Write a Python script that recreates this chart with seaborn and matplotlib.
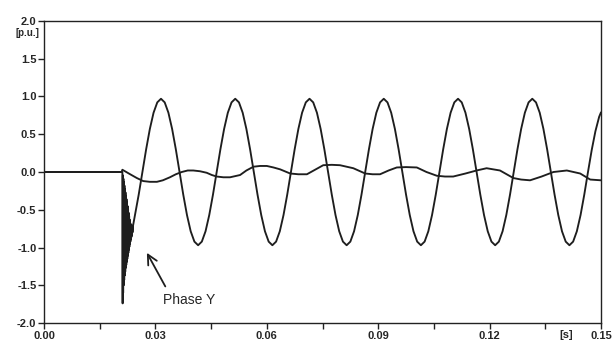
import numpy as np
import pandas as pd
import matplotlib
matplotlib.use("Agg")
import matplotlib.pyplot as plt
import seaborn as sns

# ---------------- data ----------------
# tick labels
x_ticks = [0.00, 0.03, 0.06, 0.09, 0.12, 0.15]
x_tick_labels = ["0.00", "0.03", "0.06", "0.09", "0.12", "0.15"]
y_ticks = [2.0, 1.5, 1.0, 0.5, 0.0, -0.5, -1.0, -1.5, -2.0]
y_tick_labels = ["2.0", "1.5", "1.0", "0.5", "0.0", "-0.5", "-1.0", "-1.5", "-2.0"]

# large curve: pre-fault part
pre_t = [0.0, 0.0211]
pre_v = [0.0, 0.0]

# large curve: dense transient right after the fault (t from 0.0211, step 0.00007 s)
trans_t0 = 0.0211
trans_dt = 0.00007
trans_v = [0.00, -1.74, -0.045, -1.60, -0.09, -1.50, -0.135, -1.43,
           -0.18, -1.37, -0.225, -1.32, -0.27, -1.27, -0.315, -1.23,
           -0.36, -1.19, -0.405, -1.15, -0.45, -1.11, -0.495, -1.07,
           -0.54, -1.03, -0.585, -0.99, -0.63, -0.95, -0.675, -0.92,
           -0.69, -0.89, -0.70, -0.86, -0.71, -0.83, -0.72, -0.80,
           -0.73]

# large curve: steady sinusoid (t from 0.0245, step 0.001 s)
main_t0 = 0.0245
main_dt = 0.001
main_v = [-0.570, -0.300, 0.000, 0.300, 0.570, 0.785, 0.922, 0.970, 0.922, 0.785,
          0.570, 0.300, 0.000, -0.300, -0.570, -0.785, -0.922, -0.970, -0.922,
          -0.785, -0.570, -0.300, 0.000, 0.300, 0.570, 0.785, 0.922, 0.970, 0.922,
          0.785, 0.570, 0.300, 0.000, -0.300, -0.570, -0.785, -0.922, -0.970, -0.922,
          -0.785, -0.570, -0.300, 0.000, 0.300, 0.570, 0.785, 0.922, 0.970, 0.922,
          0.785, 0.570, 0.300, 0.000, -0.300, -0.570, -0.785, -0.922, -0.970, -0.922,
          -0.785, -0.570, -0.300, 0.000, 0.300, 0.570, 0.785, 0.922, 0.970, 0.922,
          0.785, 0.570, 0.300, 0.000, -0.300, -0.570, -0.785, -0.922, -0.970, -0.922,
          -0.785, -0.570, -0.300, 0.000, 0.300, 0.570, 0.785, 0.922, 0.970, 0.922,
          0.785, 0.570, 0.300, 0.000, -0.300, -0.570, -0.785, -0.922, -0.970, -0.922,
          -0.785, -0.570, -0.300, 0.000, 0.300, 0.570, 0.785, 0.922, 0.970, 0.922,
          0.785, 0.570, 0.300, 0.000, -0.300, -0.570, -0.785, -0.922, -0.970, -0.922,
          -0.785, -0.570, -0.300, 0.000, 0.290, 0.540, 0.730]
end_t = [0.150]
end_v = [0.79]

# small curve
small_t = [0.0, 0.0209, 0.0211, 0.0232, 0.0250, 0.0267, 0.0285, 0.0304, 0.0320,
           0.0339, 0.0355, 0.0371, 0.0387, 0.0402, 0.0420, 0.0438, 0.0452, 0.0465,
           0.0483, 0.0501, 0.0528, 0.0545, 0.0564, 0.0582, 0.0600, 0.0618, 0.0636,
           0.0663, 0.0685, 0.0708, 0.0730, 0.0752, 0.0775, 0.0797, 0.0833, 0.0865,
           0.0885, 0.0905, 0.0928, 0.0950, 0.0975, 0.1004, 0.1030, 0.1058, 0.1080,
           0.1102, 0.1135, 0.1165, 0.1192, 0.1228, 0.1246, 0.1264, 0.1285, 0.1309,
           0.1340, 0.1372, 0.1408, 0.1444, 0.1471, 0.1500]
small_v = [0.0, 0.0, 0.03, -0.03, -0.08, -0.12, -0.13, -0.13, -0.11,
           -0.07, -0.03, 0.00, 0.02, 0.02, 0.01, -0.01, -0.04, -0.06,
           -0.07, -0.07, -0.04, 0.02, 0.07, 0.08, 0.08, 0.06, 0.035,
           -0.02, -0.03, -0.03, 0.03, 0.09, 0.095, 0.09, 0.05, -0.02,
           -0.03, -0.03, 0.02, 0.06, 0.065, 0.06, 0.00, -0.05, -0.06,
           -0.06, -0.02, 0.02, 0.05, 0.02, -0.03, -0.08, -0.10, -0.11,
           -0.06, 0.00, 0.02, -0.02, -0.10, -0.11]

annot_text = "Phase Y"
annot_xy = (0.0277, -1.07)
annot_text_xy = (0.0320, -1.70)

# ---------------- build tables ----------------
trans_t = list(np.round(trans_t0 + trans_dt * np.arange(len(trans_v)), 6))
main_t = list(np.round(main_t0 + main_dt * np.arange(len(main_v)), 6))
big = pd.DataFrame({"t": pre_t + trans_t + main_t + end_t,
                    "v": pre_v + trans_v + main_v + end_v})
small = pd.DataFrame({"t": small_t, "v": small_v})

# ---------------- plot ----------------
sns.set_style("ticks")
plt.rcParams["font.family"] = ["Liberation Sans", "DejaVu Sans"]

fig = plt.figure(figsize=(6.14, 3.44), dpi=100)
ax = fig.add_axes([0.0717, 0.061, 0.9071, 0.878])

line_color = "#1e1e1e"
sns.lineplot(data=small, x="t", y="v", ax=ax, color=line_color, lw=1.35,
             sort=False, estimator=None)
sns.lineplot(data=big, x="t", y="v", ax=ax, color=line_color, lw=1.35,
             sort=False, estimator=None)

ax.set_xlim(0.0, 0.15)
ax.set_ylim(-2.0, 2.0)
ax.set_xticks(x_ticks)
ax.set_xticklabels(x_tick_labels)
ax.set_xticks([0.015, 0.045, 0.075, 0.105, 0.135], minor=True)
ax.set_yticks(y_ticks)
ax.set_yticklabels(y_tick_labels)
ax.set_xlabel("")
ax.set_ylabel("")

for s in ax.spines.values():
    s.set_visible(True)
    s.set_color("#222222")
    s.set_linewidth(1.0)

ax.tick_params(axis="both", which="both", direction="out", length=4, width=1.0,
               color="#222222", labelsize=8, pad=1.5)
for lab in ax.get_xticklabels() + ax.get_yticklabels():
    lab.set_fontweight("bold")

ax.text(-0.0013, 1.84, "[p.u.]", ha="right", va="center", fontsize=7,
        fontweight="bold", clip_on=False)
ax.text(0.1405, -2.09, "[s]", ha="center", va="top", fontsize=8,
        fontweight="bold", clip_on=False)

ax.annotate(annot_text, xy=annot_xy, xytext=annot_text_xy,
            ha="left", va="center", fontsize=10,
            arrowprops=dict(arrowstyle="->,head_length=0.7,head_width=0.35",
                            lw=1.3, color=line_color, relpos=(0.12, 1.0),
                            shrinkA=3, shrinkB=0))

fig.savefig("out.png", dpi=100, facecolor="white")
